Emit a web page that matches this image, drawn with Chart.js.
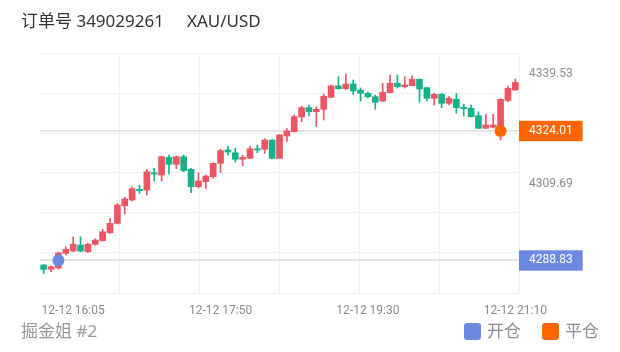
<!DOCTYPE html>
<html>
<head>
<meta charset="utf-8">
<script src="https://cdn.jsdelivr.net/npm/chart.js@4.4.1/dist/chart.umd.min.js"></script>
<style>
  body { margin: 0; background: #fff; }
  #wrap { position: relative; width: 620px; height: 352px; font-family: "Noto Sans", "Noto Sans CJK SC", sans-serif; }
  #chart { position: absolute; left: 0; top: 0; }
  .txt { position: absolute; font-size: 17px; line-height: 20px; white-space: nowrap; }
  .head { top: 11px; color: #333; }
  .foot { top: 321px; color: #999; }
  .legend { right: 21px; display: flex; align-items: center; color: #8c8c8c; }
  .sw { width: 17px; height: 17px; border-radius: 3px; margin-right: 6px; }
</style>
</head>
<body>
<div id="wrap">
  <canvas id="chart" width="620" height="352"></canvas>
  <div class="txt head" style="left:21px">订单号 349029261</div>
  <div class="txt head" style="left:187px">XAU/USD</div>
  <div class="txt foot" style="left:21px">掘金姐 #2</div>
  <div class="txt foot legend">
    <span class="sw" style="background:#6c89e2"></span><span style="margin-right:21px">开仓</span>
    <span class="sw" style="background:#ff6600"></span><span>平仓</span>
  </div>
</div>
<script>
// 5 minute bars, 12-12
const times = [
  "15:45", "15:50", "15:55", "16:00", "16:05", "16:15", "16:20", "16:25", "16:30", "16:35",
  "16:40", "16:45", "16:50", "16:55", "17:00", "17:05", "17:10", "17:15", "17:20", "17:25",
  "17:30", "17:35", "17:40", "17:45", "17:50", "17:55", "18:00", "18:05", "18:10", "18:15",
  "18:20", "18:25", "18:30", "18:35", "18:40", "18:45", "18:50", "18:55", "19:00", "19:05",
  "19:10", "19:15", "19:20", "19:25", "19:30", "19:35", "19:40", "19:45", "19:50", "19:55",
  "20:00", "20:05", "20:10", "20:15", "20:20", "20:25", "20:30", "20:35", "20:40", "20:45",
  "20:50", "20:55", "21:00", "21:05", "21:10"
];
const xTickIdx = [4, 24, 44, 64];

const opens = [
  4287.60, 4286.43, 4286.78, 4290.78, 4291.40, 4293.03, 4291.21, 4293.22, 4294.20, 4296.37,
  4298.93, 4303.71, 4305.26, 4308.17, 4307.98, 4312.68, 4312.05, 4316.86, 4314.96, 4317.03,
  4313.60, 4308.87, 4310.23, 4311.59, 4315.23, 4318.85, 4318.11, 4316.32, 4316.59, 4319.20,
  4319.04, 4321.56, 4316.59, 4322.65, 4323.82, 4327.81, 4330.34, 4329.25, 4329.91, 4333.17,
  4336.29, 4335.48, 4336.78, 4335.15, 4334.25, 4333.33, 4332.16, 4334.42, 4336.97, 4336.05,
  4336.32, 4338.06, 4335.78, 4332.90, 4333.98, 4331.54, 4332.62, 4330.45, 4330.18, 4328.17,
  4324.74, 4325.02, 4324.96, 4332.30, 4335.15
];
const highs = [
  4287.75, 4287.33, 4291.13, 4292.57, 4295.29, 4295.29, 4293.49, 4294.74, 4297.30, 4300.29,
  4304.36, 4305.99, 4308.87, 4309.34, 4313.60, 4313.87, 4317.22, 4317.49, 4317.22, 4317.49,
  4313.87, 4312.68, 4312.05, 4315.40, 4319.04, 4319.93, 4319.31, 4317.49, 4319.93, 4320.21,
  4321.92, 4321.70, 4323.11, 4324.64, 4328.36, 4330.80, 4331.08, 4330.61, 4334.06, 4336.51,
  4338.77, 4339.53, 4337.87, 4335.69, 4334.61, 4333.79, 4336.97, 4339.23, 4339.23, 4338.77,
  4339.04, 4338.20, 4335.97, 4334.25, 4334.25, 4333.33, 4334.25, 4331.27, 4331.08, 4329.25,
  4328.55, 4328.55, 4332.80, 4336.24, 4338.14
];
const lows = [
  4285.34, 4285.78, 4286.51, 4290.31, 4291.21, 4291.21, 4290.94, 4292.95, 4294.12, 4296.21,
  4298.74, 4301.46, 4304.99, 4307.08, 4306.62, 4310.42, 4310.42, 4312.33, 4313.77, 4312.95,
  4307.24, 4308.52, 4308.44, 4311.16, 4312.68, 4317.49, 4315.59, 4314.50, 4316.48, 4318.11,
  4317.95, 4316.40, 4316.48, 4321.10, 4323.74, 4326.54, 4328.09, 4325.23, 4327.00, 4332.98,
  4335.40, 4335.34, 4333.98, 4332.16, 4332.98, 4329.91, 4332.03, 4334.34, 4335.69, 4335.69,
  4336.24, 4331.81, 4332.16, 4331.08, 4330.34, 4331.08, 4328.82, 4328.09, 4327.81, 4324.70,
  4324.65, 4324.83, 4321.56, 4331.97, 4335.02
];
const closes = [
  4286.43, 4287.13, 4290.86, 4291.86, 4293.22, 4291.40, 4293.22, 4294.39, 4296.65, 4298.93,
  4303.90, 4305.53, 4308.33, 4307.79, 4312.95, 4312.33, 4317.03, 4314.96, 4317.03, 4313.22,
  4308.87, 4310.42, 4311.78, 4315.23, 4318.66, 4318.30, 4316.32, 4316.86, 4319.20, 4318.85,
  4321.56, 4316.59, 4322.92, 4324.01, 4327.90, 4330.34, 4329.25, 4329.91, 4333.44, 4336.29,
  4335.48, 4336.78, 4334.88, 4334.25, 4333.33, 4331.81, 4334.53, 4336.97, 4336.05, 4336.51,
  4338.06, 4335.42, 4332.90, 4333.98, 4331.54, 4332.90, 4330.34, 4330.07, 4327.90, 4324.74,
  4325.64, 4325.64, 4332.62, 4335.61, 4337.19
];

// trade markers
const openTrade = { idx: 2, price: 4288.83 };
const closeTrade = { idx: 62, price: 4324.01 };

const yTickValues = [4288.83, 4309.69, 4324.01, 4339.53];
const Y_MIN = 4280;
const Y_MAX = 4345.2;

const UP = "#eb5564";
const DOWN = "#14b28a";
const OPEN_C = "#6c89e2";
const CLOSE_C = "#ff6600";
const GRID = "#f1f1f1";

function markColor(v) {
  if (v === openTrade.price) return OPEN_C;
  if (v === closeTrade.price) return CLOSE_C;
  return null;
}

const colors = opens.map((o, i) => (closes[i] >= o ? UP : DOWN));
const wicks = lows.map((l, i) => [l, highs[i]]);
const bodies = opens.map((o, i) => [o, closes[i]]);

const ctx = document.getElementById("chart").getContext("2d");
new Chart(ctx, {
  type: "bar",
  data: {
    labels: times,
    datasets: [
      {
        type: "line",
        data: [{ x: times[openTrade.idx], y: openTrade.price }],
        showLine: false,
        pointRadius: 6,
        pointBackgroundColor: OPEN_C,
        pointBorderWidth: 0,
        order: 0,
      },
      {
        type: "line",
        data: [{ x: times[closeTrade.idx], y: closeTrade.price }],
        showLine: false,
        pointRadius: 6,
        pointBackgroundColor: CLOSE_C,
        pointBorderWidth: 0,
        order: 0,
      },
      {
        data: bodies,
        backgroundColor: colors,
        barThickness: 6,
        minBarLength: 1,
        grouped: false,
        order: 1,
      },
      {
        data: wicks,
        backgroundColor: colors,
        barThickness: 1,
        grouped: false,
        order: 2,
      },
    ],
  },
  options: {
    responsive: false,
    animation: false,
    events: [],
    layout: { padding: { left: 40, right: 21, top: 53, bottom: 29 } },
    plugins: { legend: { display: false }, tooltip: { enabled: false } },
    scales: {
      x: {
        type: "category",
        offset: true,
        grid: { display: false },
        border: { display: false },
        ticks: {
          autoSkip: false,
          maxRotation: 0,
          minRotation: 0,
          padding: 3,
          color: "#8a8a8a",
          font: { family: "Roboto", size: 12 },
          callback: function (v, i) {
            return xTickIdx.includes(i) ? "12-12 " + times[i] : "";
          },
        },
        afterFit: (s) => { s.height = 30; },
      },
      xGrid: {
        type: "linear",
        position: "top",
        min: 0,
        max: 6,
        offset: false,
        grid: {
          offset: false,
          drawTicks: false,
          color: (c) => (c.index === 0 ? "rgba(0,0,0,0)" : GRID),
        },
        border: { display: false },
        ticks: { display: false, stepSize: 1 },
        afterFit: (s) => { s.height = 0; },
      },
      y: {
        position: "right",
        min: Y_MIN,
        max: Y_MAX,
        afterBuildTicks: (s) => {
          s.ticks = yTickValues.map((v) => ({ value: v }));
        },
        grid: {
          drawTicks: false,
          lineWidth: 2,
          color: (c) => (c.tick && markColor(c.tick.value) ? "#e3e3e3" : "rgba(0,0,0,0)"),
        },
        border: { display: false },
        ticks: {
          padding: 10,
          font: { family: "Roboto", size: 12 },
          color: (c) => (markColor(c.tick.value) ? "#ffffff" : "#8c8c8c"),
          showLabelBackdrop: (c) => !!markColor(c.tick.value),
          backdropColor: (c) => markColor(c.tick.value) || "rgba(0,0,0,0)",
          backdropPadding: { top: 3, bottom: 3, left: 10, right: 10 },
          callback: (v) => Number(v).toFixed(2),
        },
        afterFit: (s) => { s.width = 80; },
      },
      yGrid: {
        type: "linear",
        position: "left",
        min: Y_MIN,
        max: Y_MAX,
        afterBuildTicks: (s) => {
          const ticks = [];
          for (let k = 0; k <= 6; k++) ticks.push({ value: Y_MIN + (k * (Y_MAX - Y_MIN)) / 6 });
          s.ticks = ticks;
        },
        grid: { drawTicks: false, color: GRID },
        border: { display: false },
        ticks: { display: false },
        afterFit: (s) => { s.width = 0; },
      },
    },
  },
});
</script>
</body>
</html>
